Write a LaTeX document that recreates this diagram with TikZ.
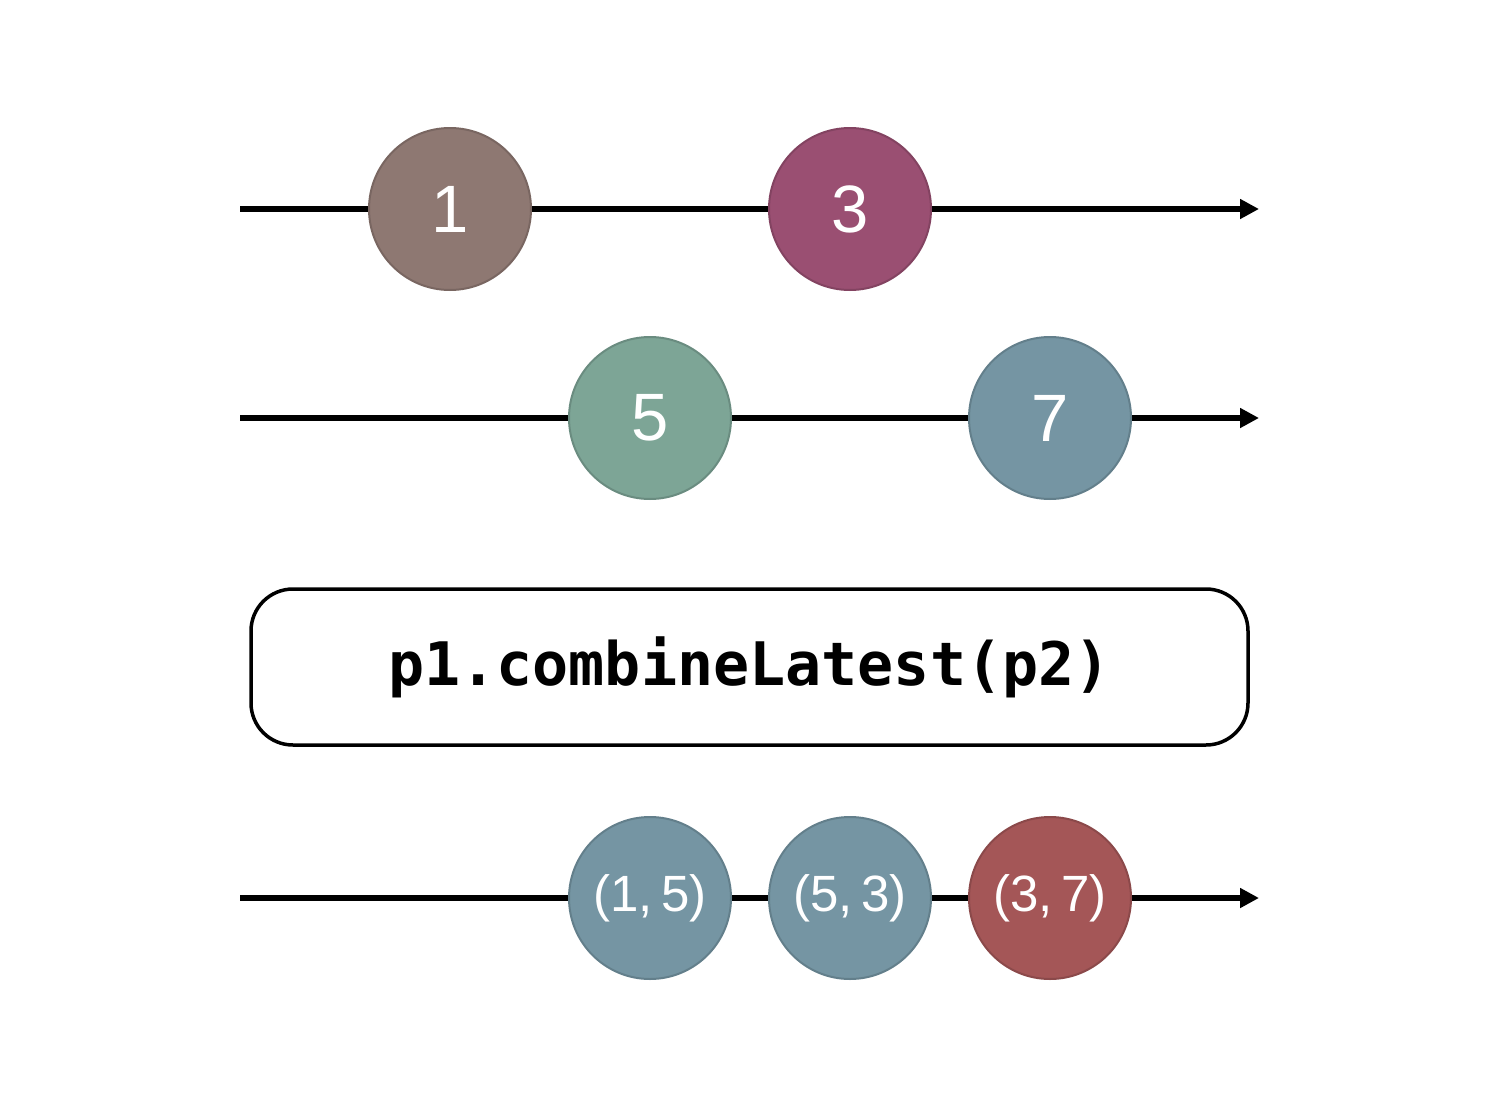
\documentclass[tikz,border=0pt]{standalone}
\usepackage{fontspec}
\setmainfont{Liberation Sans}
\setmonofont{DejaVu Sans Mono}
\usetikzlibrary{arrows.meta}
\definecolor{cA}{HTML}{8E7872}
\definecolor{cB}{HTML}{9A4F72}
\definecolor{cC}{HTML}{7DA596}
\definecolor{cD}{HTML}{7595A3}
\definecolor{cE}{HTML}{A45657}
\tikzset{
  timeline/.style={line width=5.5pt,-{Triangle[length=19pt,width=19pt]}},
  marble/.style={circle,minimum size=162pt,inner sep=0pt,line width=2pt,text=white,font=\fontsize{67}{67}\selectfont},
  pairmarble/.style={marble,font=\fontsize{51}{51}\selectfont},
  opbox/.style={draw,line width=3.5pt,rounded corners=42pt,minimum width=997pt,minimum height=156pt,font=\ttfamily\bfseries\fontsize{60}{60}\selectfont}
}
\begin{document}
\begin{tikzpicture}[x=1pt,y=-1pt]
\useasboundingbox (0,0) rectangle (1500,1100);
% timelines
\coordinate (s1) at (240,209); \coordinate (e1) at (1259,209);
\coordinate (s2) at (240,418); \coordinate (e2) at (1259,418);
\coordinate (s3) at (240,898); \coordinate (e3) at (1259,898);
\draw[timeline] (s1) -- (e1);
\draw[timeline] (s2) -- (e2);
\draw[timeline] (s3) -- (e3);
% marbles
\node[marble,fill=cA,draw=cA!85!black] (m1) at (450,209) {1};
\node[marble,fill=cB,draw=cB!85!black] (m3) at (850,209) {3};
\node[marble,fill=cC,draw=cC!85!black] (m5) at (650,418) {5};
\node[marble,fill=cD,draw=cD!85!black] (m7) at (1050,418) {7};
\node[opbox] (op) at (749.5,667) {\raisebox{-3pt}{p1.combineLatest(p2)}};
\node[pairmarble,fill=cD,draw=cD!85!black] (r1) at (650,898) {\raisebox{-4pt}{(1,\,5)}};
\node[pairmarble,fill=cD,draw=cD!85!black] (r2) at (850,898) {\raisebox{-4pt}{(5,\,3)}};
\node[pairmarble,fill=cE,draw=cE!85!black] (r3) at (1050,898) {\raisebox{-4pt}{(3,\,7)}};
\end{tikzpicture}
\end{document}
